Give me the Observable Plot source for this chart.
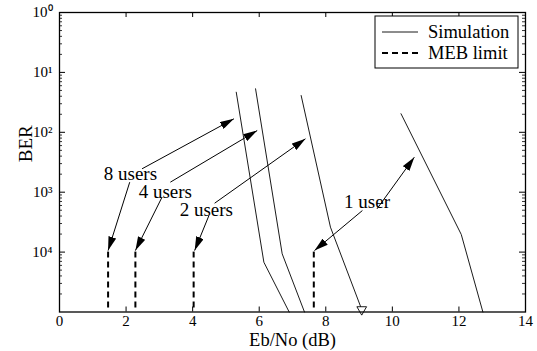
<!DOCTYPE html>
<html><head><meta charset="utf-8">
<script src="https://cdn.jsdelivr.net/npm/d3@7"></script>
<script src="https://cdn.jsdelivr.net/npm/@observablehq/plot@0.6"></script>
<style>body{margin:0;background:#fff}</style>
</head><body><div id="chart"></div>
<script>
// ---- data ----
const seriesNames = ["8 users", "4 users", "2 users", "1 user"];
const sim8Eb = [5.31, 6.14, 6.90];   const sim8Ber = [0.0467, 6.78e-5, 1e-5];
const sim4Eb = [5.89, 6.69, 7.36];   const sim4Ber = [0.0532, 9.37e-5, 1e-5];
const sim2Eb = [7.26, 8.14, 9.08];   const sim2Ber = [0.0411, 2.61e-4, 1.1e-5];
const sim1Eb = [10.26, 12.07, 12.72]; const sim1Ber = [0.0204, 1.97e-4, 1e-5];
const zeroErrEb = [9.08]; const zeroErrBer = [1.1e-5];

const mebEb = [1.46, 2.28, 4.03, 7.64];
const mebTop = 1e-4, mebBottom = 1e-5;

const labelText = ["8 users", "4 users", "2 users", "1 user"];
const labelEb = [2.13, 3.18, 4.41, 9.24];
const labelBer = [0.00203, 0.00100, 5.08e-4, 6.81e-4];

const arrowX1 = [2.48, 2.11, 3.33, 3.08, 4.66, 4.49, 9.54, 9.10];
const arrowY1 = [0.00246, 0.00147, 0.00147, 8.26e-4, 6.55e-4, 4.08e-4, 5.28e-4, 4.94e-4];
const arrowX2 = [5.24, 1.46, 5.94, 2.28, 7.39, 4.06, 10.66, 7.66];
const arrowY2 = [0.0168, 1.06e-4, 0.0107, 1.06e-4, 0.0078, 1.06e-4, 0.00384, 1.06e-4];

const xTicks = [0, 2, 4, 6, 8, 10, 12, 14];
const yTicks = [1, 0.1, 0.01, 0.001, 0.0001];
const yTickLabels = ["10\u2070", "10\u00b9", "10\u00b2", "10\u00b3", "10\u2074"];
const legendLabels = ["Simulation", "MEB limit"];

// ---- tables ----
const simEb = [sim8Eb, sim4Eb, sim2Eb, sim1Eb];
const simBer = [sim8Ber, sim4Ber, sim2Ber, sim1Ber];
const sim = [];
seriesNames.forEach((s, k) => simEb[k].forEach((x, i) => sim.push({s, x, y: simBer[k][i]})));
const arrows = arrowX1.map((x1, i) => ({x1, y1: arrowY1[i], x2: arrowX2[i], y2: arrowY2[i]}));
const labels = labelText.map((t, i) => ({t, x: labelEb[i], y: labelBer[i]}));
const zeroErr = zeroErrEb.map((x, i) => ({x, y: zeroErrBer[i]}));
const yMinor = [];
for (let k = -5; k <= -1; k++) for (let m = 2; m <= 9; m++) yMinor.push(m * Math.pow(10, k));

const W = 537, H = 351, ML = 59, MR = 12, MT = 12, MB = 39.5;
const FW = W - ML - MR, FH = H - MT - MB;
const FONT = "'Liberation Serif', 'Times New Roman', serif";

function filledArrow(color) {
  const m = d3.create("svg:marker")
    .attr("viewBox", "0 -4 14 8").attr("refX", 14).attr("refY", 0)
    .attr("markerWidth", 14).attr("markerHeight", 8)
    .attr("markerUnits", "userSpaceOnUse").attr("orient", "auto");
  m.append("path").attr("d", "M0,-4L14,0L0,4Z").attr("fill", color).attr("stroke", "none");
  return m.node();
}

function legend(index, scales, values, dim) {
  const x0 = dim.width - dim.marginRight - 150, y0 = dim.marginTop + 4;
  const g = d3.create("svg:g");
  g.append("rect").attr("x", x0).attr("y", y0).attr("width", 143).attr("height", 52)
    .attr("fill", "white").attr("stroke", "black").attr("stroke-width", 1);
  const rows = [{dash: null, w: 0.9}, {dash: "6,4", w: 2}];
  rows.forEach((r, i) => {
    const yy = y0 + 16 + i * 21;
    const l = g.append("line").attr("x1", x0 + 7).attr("x2", x0 + 43).attr("y1", yy).attr("y2", yy)
      .attr("stroke", "black").attr("stroke-width", r.w);
    if (r.dash) l.attr("stroke-dasharray", r.dash);
    g.append("text").attr("x", x0 + 53).attr("y", yy).attr("dy", "0.35em")
      .attr("text-anchor", "start")
      .attr("font-size", 18.5).attr("font-family", FONT).attr("fill", "black").text(legendLabels[i]);
  });
  return g.node();
}

const chart = Plot.plot({
  width: W, height: H,
  marginLeft: ML, marginRight: MR, marginTop: MT, marginBottom: MB,
  style: {fontFamily: FONT, fontSize: "15px", background: "white", color: "black"},
  x: {domain: [0, 14]},
  y: {type: "log", domain: [1e-5, 1]},
  marks: [
    Plot.axisX({ticks: xTicks, tickSize: 0, tickPadding: 3, label: null, fontSize: 15}),
    Plot.axisY({ticks: yTicks, tickSize: 0, tickPadding: 7, label: null, fontSize: 15,
      tickFormat: d => yTickLabels[yTicks.findIndex(t => Math.abs(t - d) / t < 1e-6)]}),
    // inward ticks
    Plot.ruleX(xTicks, {insetTop: FH - 5, stroke: "black"}),
    Plot.ruleX(xTicks, {insetBottom: FH - 5, stroke: "black"}),
    Plot.ruleY(yTicks, {insetRight: FW - 6, stroke: "black"}),
    Plot.ruleY(yTicks, {insetLeft: FW - 6, stroke: "black"}),
    Plot.ruleY(yMinor, {insetRight: FW - 3, stroke: "black", strokeWidth: 0.8}),
    Plot.ruleY(yMinor, {insetLeft: FW - 3, stroke: "black", strokeWidth: 0.8}),
    // simulation curves
    Plot.line(sim, {x: "x", y: "y", z: "s", stroke: "black", strokeWidth: 0.9}),
    Plot.dot(zeroErr, {x: "x", y: "y", symbol: "triangle", rotate: 180, r: 3.6, fill: "white", stroke: "black", strokeWidth: 0.9}),
    // MEB limits
    Plot.ruleX(mebEb, {y1: mebTop, y2: mebBottom, stroke: "black", strokeWidth: 2, strokeDasharray: "6,4"}),
    // annotations
    Plot.link(arrows, {x1: "x1", y1: "y1", x2: "x2", y2: "y2", stroke: "black", strokeWidth: 1, markerEnd: filledArrow}),
    Plot.text(labels, {x: "x", y: "y", text: "t", fontSize: 19, fill: "black"}),
    Plot.frame({stroke: "black", strokeWidth: 1.3}),
    legend,
    Plot.text(["BER"], {frameAnchor: "left", dx: -34, rotate: -90, fontSize: 19, fill: "black"}),
    Plot.text(["Eb/No (dB)"], {frameAnchor: "bottom", dy: 34, fontSize: 18.5, fill: "black"})
  ]
});
document.getElementById("chart").appendChild(chart);
</script>
</body></html>
